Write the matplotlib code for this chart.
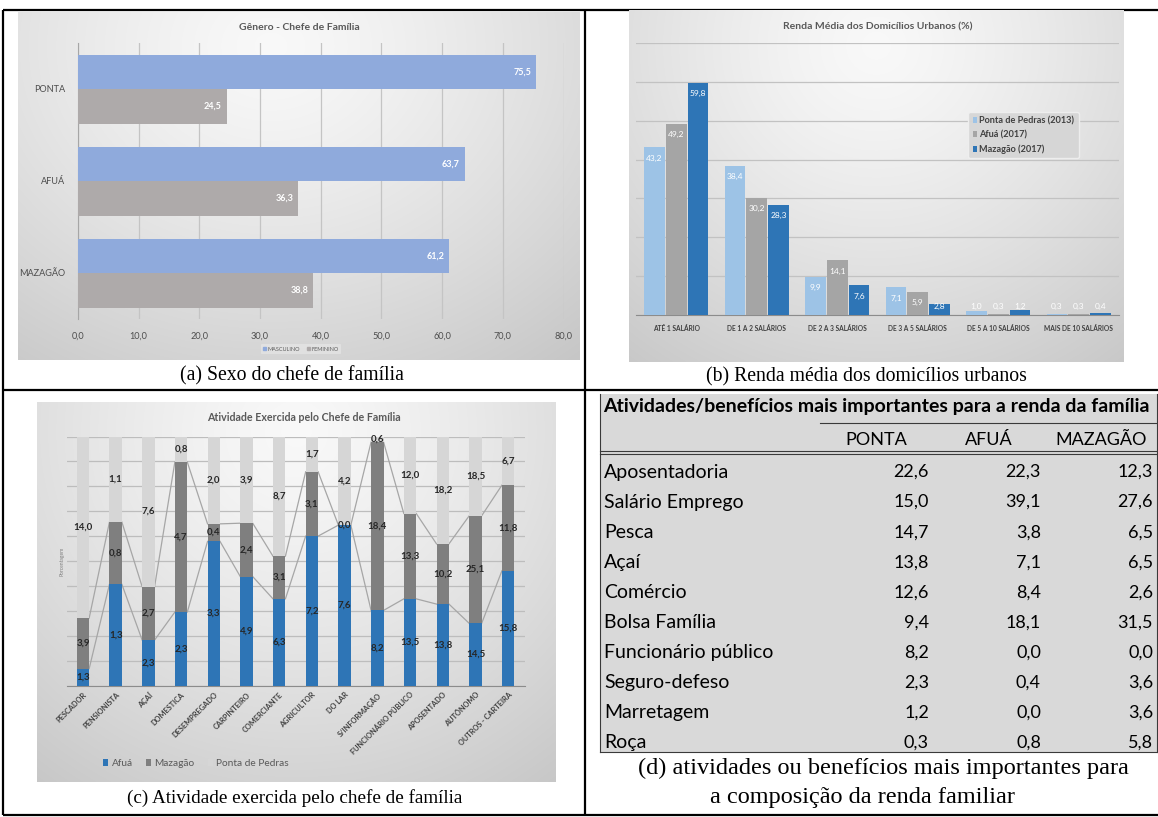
import numpy as np
import matplotlib
matplotlib.use("Agg")
import matplotlib.pyplot as plt
from matplotlib.patches import Rectangle

plt.rcParams['font.family'] = ['Lato', 'DejaVu Sans']

W, H, DPI = 1158, 817, 100

# ---------------- data ----------------
# (a) gender of the head of household (%)
gender_places = ['PONTA', 'AFUÁ', 'MAZAGÃO']
gender_male = [75.5, 63.7, 61.2]
gender_female = [24.5, 36.3, 38.8]
gender_ticks = [0, 10, 20, 30, 40, 50, 60, 70, 80]
gender_series = ['MASCULINO', 'FEMININO']

# (b) average income of urban households (%)
income_classes = ['ATÉ 1 SALÁRIO', 'DE 1 A 2 SALÁRIOS', 'DE 2 A 3 SALÁRIOS',
                  'DE 3 A 5 SALÁRIOS', 'DE 5 A 10 SALÁRIOS', 'MAIS DE 10 SALÁRIOS']
income_ponta = [43.2, 38.4, 9.9, 7.1, 1.0, 0.3]
income_afua = [49.2, 30.2, 14.1, 5.9, 0.3, 0.3]
income_mazagao = [59.8, 28.3, 7.6, 2.8, 1.2, 0.4]
income_series = ['Ponta de Pedras (2013)', 'Afuá (2017)', 'Mazagão (2017)']

# (c) occupation of the head of household
occupations = ['PESCADOR', 'PENSIONISTA', 'AÇAÍ', 'DOMESTICA', 'DESEMPREGADO',
               'CARPINTEIRO', 'COMERCIANTE', 'AGRICULTOR', 'DO LAR', 'S/INFORMAÇÃO',
               'FUNCIONÁRIO PÚBLICO', 'APOSENTADO', 'AUTÔNOMO', 'OUTROS - CARTEIRA']
occ_afua = [1.3, 1.3, 2.3, 2.3, 3.3, 4.9, 6.3, 7.2, 7.6, 8.2, 13.5, 13.8, 14.5, 15.8]
occ_mazagao = [3.9, 0.8, 2.7, 4.7, 0.4, 2.4, 3.1, 3.1, 0.0, 18.4, 13.3, 10.2, 25.1, 11.8]
occ_ponta = [14.0, 1.1, 7.6, 0.8, 2.0, 3.9, 8.7, 1.7, 4.2, 0.6, 12.0, 18.2, 18.5, 6.7]
occ_series = ['Afuá', 'Mazagão', 'Ponta de Pedras']

# (d) most important activities/benefits for family income
table_title = 'Atividades/benefícios mais importantes para a renda da família'
table_columns = ['PONTA', 'AFUÁ', 'MAZAGÃO']
income_sources = ['Aposentadoria', 'Salário Emprego', 'Pesca', 'Açaí', 'Comércio',
                  'Bolsa Família', 'Funcionário público', 'Seguro-defeso',
                  'Marretagem', 'Roça']
source_ponta = [22.6, 15.0, 14.7, 13.8, 12.6, 9.4, 8.2, 2.3, 1.2, 0.3]
source_afua = [22.3, 39.1, 3.8, 7.1, 8.4, 18.1, 0.0, 0.4, 0.0, 0.8]
source_mazagao = [12.3, 27.6, 6.5, 6.5, 2.6, 31.5, 0.0, 3.6, 3.6, 5.8]

captions = {
    'a': '(a) Sexo do chefe de família',
    'b': '(b) Renda média dos domicílios urbanos',
    'c': '(c) Atividade exercida pelo chefe de família',
    'd1': '(d) atividades ou benefícios mais importantes para',
    'd2': 'a composição da renda familiar',
}


def fmt(v):
    return f'{v:.1f}'.replace('.', ',')


def box(x0, y0, x1, y1):
    """Pixel box (top-left origin) -> figure fraction rect."""
    return [x0 / W, 1 - y1 / H, (x1 - x0) / W, (y1 - y0) / H]


def chart_background(x0, y0, x1, y1, cx=0.5, cy=0.85, light=0.975, dark=0.78):
    bg = fig.add_axes(box(x0, y0, x1, y1), zorder=1)
    xs = np.linspace(0, 1, 400)
    ys = np.linspace(0, 1, 300)
    X, Y = np.meshgrid(xs, ys)
    r = np.sqrt(((X - cx) / 0.85) ** 2 + ((Y - cy) / 1.15) ** 2)
    v = light - (light - dark) * np.clip(r, 0, 1) ** 1.3
    bg.imshow(np.dstack([v, v, v]), extent=[0, 1, 0, 1], origin='lower',
              aspect='auto', interpolation='bilinear')
    bg.set_axis_off()
    return bg


fig = plt.figure(figsize=(W / DPI, H / DPI), dpi=DPI)

# base canvas (pixel coordinates) for frame lines and the table
base = fig.add_axes([0, 0, 1, 1], zorder=0)
base.set_xlim(0, W)
base.set_ylim(H, 0)
base.set_axis_off()

# overlay canvas for titles and captions
over = fig.add_axes([0, 0, 1, 1], zorder=10)
over.set_xlim(0, W)
over.set_ylim(H, 0)
over.set_axis_off()
over.patch.set_alpha(0)

# frame of the layout table
frame_kw = dict(color='black', lw=1.6, solid_capstyle='butt')
base.plot([3, W], [10, 10], **frame_kw)
base.plot([3, W], [390, 390], **frame_kw)
base.plot([3, W], [815, 815], **frame_kw)
base.plot([3, 3], [10, 815], **frame_kw)
base.plot([585, 585], [10, 815], **frame_kw)

TXT = '#595959'

# ---------------- (a) ----------------
chart_background(18, 12, 580, 360, cx=0.45, cy=0.9)
ax = fig.add_axes(box(78, 43, 563.5, 319), zorder=2)
ax.patch.set_alpha(0)
ya = np.arange(len(gender_places))
bh = 0.375
ax.barh(ya - bh / 2, gender_male, height=bh, color='#8FAADC', zorder=3)
ax.barh(ya + bh / 2, gender_female, height=bh, color='#AEAAAA', zorder=3)
for y, v in zip(ya - bh / 2, gender_male):
    ax.text(v - 2.3, y, fmt(v), ha='center', va='center', color='white',
            fontsize=6.5, fontweight='bold', zorder=4)
for y, v in zip(ya + bh / 2, gender_female):
    ax.text(v - 2.3, y, fmt(v), ha='center', va='center', color='white',
            fontsize=6.5, fontweight='bold', zorder=4)
ax.set_xlim(0, 80)
ax.set_ylim(len(gender_places) - 0.5, -0.5)
ax.set_xticks(gender_ticks)
ax.set_xticklabels([fmt(t) for t in gender_ticks])
ax.set_yticks(ya)
ax.set_yticklabels(gender_places)
ax.tick_params(length=0, labelsize=6.6, colors='#4d4d4d', pad=9)
ax.tick_params(axis='y', pad=9)
ax.grid(axis='x', color='#c4c4c4', lw=0.9, zorder=0)
for s in ['top', 'right', 'bottom']:
    ax.spines[s].set_visible(False)
ax.spines['left'].set_color('#a6a6a6')
ax.set_axisbelow(True)
over.text(299, 27, 'Gênero - Chefe de Família', ha='center', va='center',
          fontsize=7.5, fontweight='bold', color=TXT)
leg_a = fig.legend([Rectangle((0, 0), 1, 1, color='#8FAADC'),
                    Rectangle((0, 0), 1, 1, color='#AEAAAA')], gender_series,
                   loc='center', bbox_to_anchor=(301 / W, 1 - 349 / H), ncol=2,
                   fontsize=4, frameon=True, handlelength=0.5, handleheight=0.6,
                   handletextpad=0.3, columnspacing=1.2, labelcolor=TXT,
                   borderpad=0.5)
leg_a.get_frame().set_facecolor('#e4e4e4')
leg_a.get_frame().set_edgecolor('none')

# ---------------- (b) ----------------
chart_background(629, 10, 1124, 362, cx=0.5, cy=0.9)
bx = fig.add_axes(box(636, 43, 1119, 315), zorder=2)
bx.patch.set_alpha(0)
xb = np.arange(len(income_classes))
bw = 0.26
b_colors = ['#9DC3E6', '#A5A5A5', '#2E75B6']
for k, (vals, col, name) in enumerate(zip([income_ponta, income_afua, income_mazagao],
                                          b_colors, income_series)):
    xs = xb + (k - 1) * (bw + 0.01)
    bx.bar(xs, vals, width=bw, color=col, label=name, zorder=3)
    for x, v in zip(xs, vals):
        bx.text(x, max(v - 2.8, 2.1), fmt(v), ha='center', va='center',
                color='white', fontsize=6, zorder=4)
bx.set_xlim(-0.5, len(income_classes) - 0.5)
bx.set_ylim(0, 70)
bx.set_yticks(np.arange(0, 71, 10))
bx.set_yticklabels([])
bx.set_xticks(xb)
bx.set_xticklabels(income_classes)
bx.tick_params(length=0, labelsize=4.8, colors='#404040', pad=7)
for lab in bx.get_xticklabels():
    lab.set_fontweight('bold')
bx.grid(axis='y', color='#c2c2c2', lw=0.9, zorder=0)
for s in ['top', 'right', 'left']:
    bx.spines[s].set_visible(False)
bx.spines['bottom'].set_color('#8c8c8c')
bx.set_axisbelow(True)
leg_b = fig.legend(*bx.get_legend_handles_labels(), loc='center',
                   bbox_to_anchor=(1023.5 / W, 1 - 135 / H),
                   prop={'weight': 'bold', 'size': 6.6}, frameon=True,
                   handlelength=0.45, handleheight=0.6, handletextpad=0.3,
                   labelspacing=0.55, borderpad=0.45, labelcolor='#404040')
leg_b.get_frame().set_facecolor('#d6d6d6')
leg_b.get_frame().set_edgecolor('#efefef')
leg_b.get_frame().set_alpha(0.95)
over.text(878, 27, 'Renda Média dos Domicílios Urbanos (%)', ha='center',
          va='center', fontsize=7.5, fontweight='bold', color=TXT)

# ---------------- (c) ----------------
chart_background(37, 402, 556, 782, cx=0.5, cy=0.92)
cx_ = fig.add_axes(box(66.6, 436.5, 524.5, 685.5), zorder=2)
cx_.patch.set_alpha(0)
afua = np.array(occ_afua)
maz = np.array(occ_mazagao)
pon = np.array(occ_ponta)
tot = afua + maz + pon
s_afua, s_maz, s_pon = afua / tot, maz / tot, pon / tot
xc = np.arange(len(occupations))
cw = 0.38
c_colors = ['#2E75B6', '#7F7F7F', '#D6D6D6']
cx_.bar(xc, s_afua, width=cw, color=c_colors[0], label=occ_series[0], zorder=3)
cx_.bar(xc, s_maz, width=cw, bottom=s_afua, color=c_colors[1],
        label=occ_series[1], zorder=3)
cx_.bar(xc, s_pon, width=cw, bottom=s_afua + s_maz, color=c_colors[2],
        label=occ_series[2], zorder=3)
# series lines between neighbouring bars
for level in [s_afua, s_afua + s_maz]:
    for i in range(len(xc) - 1):
        cx_.plot([xc[i] + cw / 2, xc[i + 1] - cw / 2], [level[i], level[i + 1]],
                 color='#a6a6a6', lw=0.9, zorder=2.5)
lab_kw = dict(ha='center', va='center', fontsize=7, fontweight='bold',
              color='#262626', zorder=5)
for i in xc:
    cx_.text(i, s_afua[i] / 2, fmt(afua[i]), **lab_kw)
    cx_.text(i, s_afua[i] + s_maz[i] / 2, fmt(maz[i]), **lab_kw)
    cx_.text(i, s_afua[i] + s_maz[i] + s_pon[i] / 2, fmt(pon[i]), **lab_kw)
cx_.set_xlim(-0.5, len(occupations) - 0.5)
cx_.set_ylim(0, 1)
cx_.set_yticks(np.linspace(0, 1, 11))
cx_.set_yticklabels([])
cx_.set_xticks(xc)
cx_.set_xticklabels(occupations, rotation=45, ha='right', rotation_mode='anchor')
cx_.tick_params(length=0, labelsize=5.3, colors='#404040', pad=4)
for lab in cx_.get_xticklabels():
    lab.set_fontweight('bold')
cx_.grid(axis='y', color='#bdbdbd', lw=0.9, zorder=0)
for s in ['top', 'right', 'left']:
    cx_.spines[s].set_visible(False)
cx_.spines['bottom'].set_color('#8c8c8c')
cx_.set_axisbelow(True)
over.text(304, 417, 'Atividade Exercida pelo Chefe de Família', ha='center',
          va='center', fontsize=7.7, fontweight='bold', color=TXT)
over.text(62, 561, 'Porcentagem', ha='center', va='center', rotation=90,
          fontsize=3.6, color='#7f7f7f')
leg_c = fig.legend(*cx_.get_legend_handles_labels(), loc='center',
                   bbox_to_anchor=(196 / W, 1 - 763.5 / H), ncol=3, fontsize=7.3,
                   frameon=False, handlelength=0.5, handleheight=0.6,
                   handletextpad=0.35, columnspacing=1.3, labelcolor=TXT)

# ---------------- (d) table ----------------
base.add_patch(Rectangle((600, 394), 557, 358, facecolor='#d9d9d9',
                         edgecolor='none', zorder=1))
tline = dict(color='#3a3a3a', lw=0.8, zorder=2)
base.plot([600, 600], [394, 752], **tline)
base.plot([600, 1157], [752, 752], **tline)
base.plot([1156.5, 1156.5], [394, 752], **tline)
base.plot([820, 1157], [422.5, 422.5], **tline)
base.plot([600, 1157], [450.5, 450.5], **tline)
base.plot([600, 1157], [453.5, 453.5], **tline)
base.text(603, 406, table_title, ha='left', va='center', fontsize=14,
          fontweight='bold', color='black', zorder=3)
for name, xcen in zip(table_columns, [876, 989, 1101]):
    base.text(xcen, 440, name, ha='center', va='center', fontsize=13,
              color='black', zorder=3)
row0, rstep = 472, 30.07
for r, (name, vp, va_, vm) in enumerate(zip(income_sources, source_ponta,
                                            source_afua, source_mazagao)):
    y = row0 + r * rstep
    base.text(604, y, name, ha='left', va='center', fontsize=14, color='black',
              zorder=3)
    for v, xr in zip([vp, va_, vm], [929, 1041, 1153]):
        base.text(xr, y, fmt(v), ha='right', va='center', fontsize=13,
                  color='black', zorder=3)

# ---------------- captions ----------------
serif = ['Liberation Serif', 'DejaVu Serif']
cap_kw = dict(ha='center', va='center', color='black', family=serif)
over.text(292, 376, captions['a'], fontsize=14.2, **cap_kw)
over.text(866, 377, captions['b'], fontsize=14.2, **cap_kw)
over.text(295, 798, captions['c'], fontsize=13.8, **cap_kw)
over.text(883, 768, captions['d1'], fontsize=17.5, **cap_kw)
over.text(862, 797, captions['d2'], fontsize=17.5, **cap_kw)

fig.savefig('out.png', dpi=DPI)
